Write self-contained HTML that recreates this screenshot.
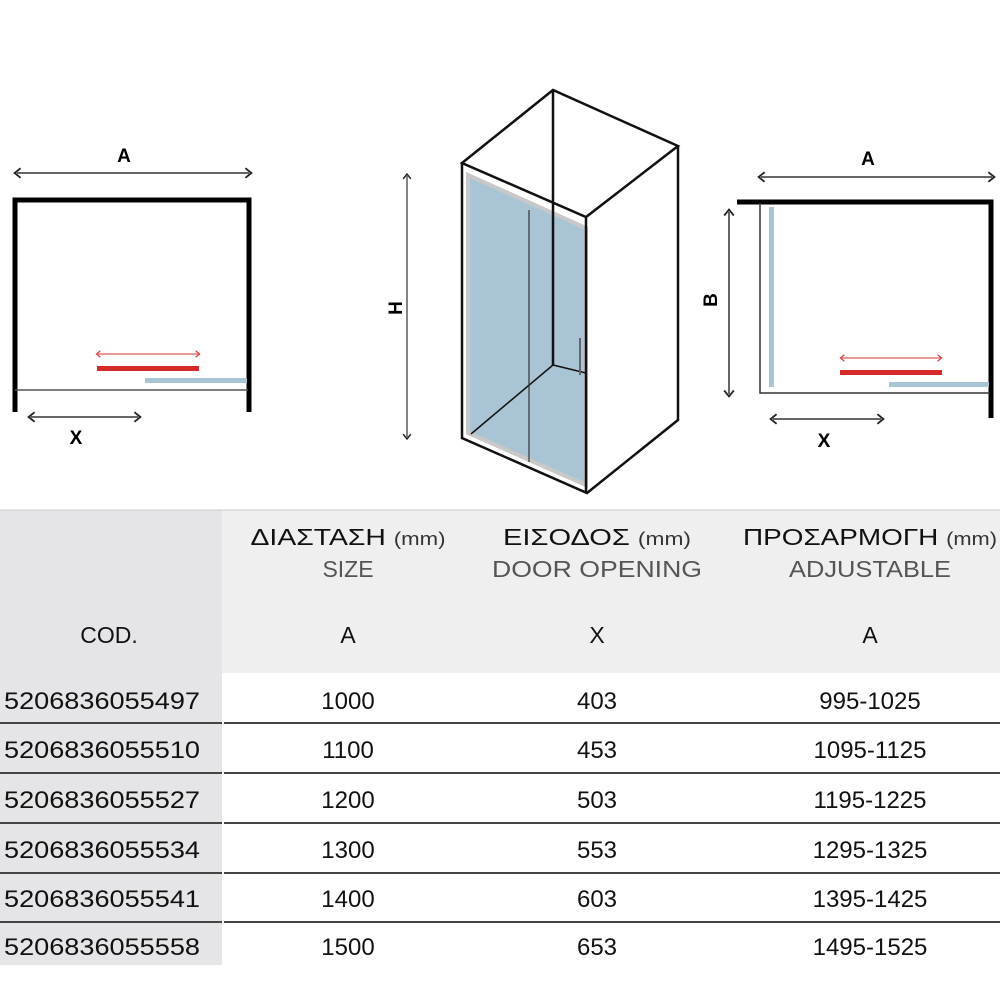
<!DOCTYPE html>
<html><head><meta charset="utf-8"><style>
html,body{margin:0;padding:0;background:#fff;}
svg{display:block;}
text{font-family:"Liberation Sans",sans-serif;}
</style></head><body>
<svg width="1000" height="1000" viewBox="0 0 1000 1000" xmlns="http://www.w3.org/2000/svg">
<defs>
<marker id="ab" viewBox="0 0 10 10" refX="5" refY="5" markerWidth="8" markerHeight="8" orient="auto-start-reverse"><path d="M2,1 L7,5 L2,9" fill="none" stroke="#222" stroke-width="1.5"/></marker>
<marker id="ar" viewBox="0 0 10 10" refX="5" refY="5" markerWidth="8" markerHeight="8" orient="auto-start-reverse"><path d="M2,1 L7,5 L2,9" fill="none" stroke="#d33" stroke-width="1.5"/></marker>
</defs>
<!-- left plan -->
<line x1="17" y1="173" x2="249" y2="173" stroke="#333" stroke-width="1.5" marker-start="url(#ab)" marker-end="url(#ab)"/>
<text x="124" y="162" font-size="19" font-weight="bold" text-anchor="middle">A</text>
<path d="M15,412 V200 H249 V412" fill="none" stroke="#000" stroke-width="5"/>
<line x1="15" y1="390" x2="248" y2="390" stroke="#555" stroke-width="1.5"/>
<line x1="98" y1="354" x2="198" y2="354" stroke="#d33" stroke-width="1" marker-start="url(#ar)" marker-end="url(#ar)"/>
<rect x="97" y="366" width="102" height="5" fill="#d42a2a"/>
<rect x="145" y="378" width="102" height="5" fill="#a9c4d4"/>
<line x1="31" y1="417" x2="138" y2="417" stroke="#333" stroke-width="1.5" marker-start="url(#ab)" marker-end="url(#ab)"/>
<text x="76" y="444" font-size="19" font-weight="bold" text-anchor="middle">X</text>
<!-- center iso -->
<line x1="407" y1="176" x2="407" y2="437" stroke="#333" stroke-width="1.2" marker-start="url(#ab)" marker-end="url(#ab)"/>
<text x="0" y="0" font-size="19" font-weight="bold" text-anchor="middle" transform="translate(402,308) rotate(-90)">H</text>
<polygon points="468,175 586,228 586,485 468,433" fill="#a9c4d4"/>
<polygon points="468,175 586,228 586,485 468,433" fill="none" stroke="#c8c8c8" stroke-width="4"/>
<path d="M462,163 L553,90 L678,146 L586,217 Z M553,90 V365 M586,217 V493 M678,146 V420 L587,493 L462,438 V163" fill="none" stroke="#111" stroke-width="2.5"/>
<line x1="553" y1="365" x2="471" y2="434" stroke="#111" stroke-width="1.5"/>
<line x1="553" y1="365" x2="586" y2="373" stroke="#111" stroke-width="1.5"/>
<line x1="529" y1="210" x2="529" y2="462" stroke="#333" stroke-width="1.2"/>
<line x1="580" y1="338" x2="580" y2="375" stroke="#666" stroke-width="2"/>
<!-- right plan -->
<line x1="761" y1="177" x2="992" y2="177" stroke="#333" stroke-width="1.5" marker-start="url(#ab)" marker-end="url(#ab)"/>
<text x="868" y="165" font-size="19" font-weight="bold" text-anchor="middle">A</text>
<path d="M737,202 H991 V418" fill="none" stroke="#000" stroke-width="5"/>
<path d="M760,203 V393 H990" fill="none" stroke="#333" stroke-width="1.5"/>
<rect x="769" y="207" width="5" height="180" fill="#a9c4d4"/>
<line x1="729" y1="212" x2="729" y2="394" stroke="#333" stroke-width="1.5" marker-start="url(#ab)" marker-end="url(#ab)"/>
<text x="0" y="0" font-size="19" font-weight="bold" text-anchor="middle" transform="translate(717,300) rotate(-90)">B</text>
<line x1="842" y1="358" x2="940" y2="358" stroke="#d33" stroke-width="1" marker-start="url(#ar)" marker-end="url(#ar)"/>
<rect x="840" y="370" width="102" height="5" fill="#d42a2a"/>
<rect x="889" y="382" width="100" height="5" fill="#a9c4d4"/>
<line x1="773" y1="419" x2="881" y2="419" stroke="#333" stroke-width="1.5" marker-start="url(#ab)" marker-end="url(#ab)"/>
<text x="824" y="447" font-size="19" font-weight="bold" text-anchor="middle">X</text>
<!-- table -->
<rect x="0" y="510" width="1000" height="163" fill="#efefef"/>
<rect x="0" y="510" width="222" height="455" fill="#e5e5e7"/>
<line x1="0" y1="510" x2="1000" y2="510" stroke="#ccc" stroke-width="1"/>
<g stroke="#444" stroke-width="2">
<line x1="0" y1="723" x2="222" y2="723"/><line x1="224" y1="723" x2="1000" y2="723"/>
<line x1="0" y1="773" x2="222" y2="773"/><line x1="224" y1="773" x2="1000" y2="773"/>
<line x1="0" y1="823" x2="222" y2="823"/><line x1="224" y1="823" x2="1000" y2="823"/>
<line x1="0" y1="873" x2="222" y2="873"/><line x1="224" y1="873" x2="1000" y2="873"/>
<line x1="0" y1="922" x2="222" y2="922"/><line x1="224" y1="922" x2="1000" y2="922"/>
</g>
<g font-size="23" text-anchor="middle" fill="#111">
<text x="348" y="545" textLength="195" lengthAdjust="spacingAndGlyphs">ΔΙΑΣΤΑΣΗ <tspan font-size="18" fill="#333">(mm)</tspan></text>
<text x="597" y="545" textLength="188" lengthAdjust="spacingAndGlyphs">ΕΙΣΟΔΟΣ <tspan font-size="18" fill="#333">(mm)</tspan></text>
<text x="870" y="545" textLength="254" lengthAdjust="spacingAndGlyphs">ΠΡΟΣΑΡΜΟΓΗ <tspan font-size="18" fill="#333">(mm)</tspan></text>
<g fill="#555">
<text x="348" y="577">SIZE</text>
<text x="597" y="577" textLength="210" lengthAdjust="spacingAndGlyphs">DOOR OPENING</text>
<text x="870" y="577" textLength="162" lengthAdjust="spacingAndGlyphs">ADJUSTABLE</text>
</g>
<text x="109" y="643">COD.</text>
<text x="348" y="643">A</text>
<text x="597" y="643">X</text>
<text x="870" y="643">A</text>
</g>
<g font-size="24" fill="#111">
<g text-anchor="start">
<text x="4" y="709" textLength="196" lengthAdjust="spacingAndGlyphs">5206836055497</text>
<text x="4" y="758" textLength="196" lengthAdjust="spacingAndGlyphs">5206836055510</text>
<text x="4" y="808" textLength="196" lengthAdjust="spacingAndGlyphs">5206836055527</text>
<text x="4" y="858" textLength="196" lengthAdjust="spacingAndGlyphs">5206836055534</text>
<text x="4" y="907" textLength="196" lengthAdjust="spacingAndGlyphs">5206836055541</text>
<text x="4" y="955" textLength="196" lengthAdjust="spacingAndGlyphs">5206836055558</text>
</g>
<g text-anchor="middle">
<text x="348" y="709">1000</text><text x="597" y="709">403</text><text x="870" y="709">995-1025</text>
<text x="348" y="758">1100</text><text x="597" y="758">453</text><text x="870" y="758">1095-1125</text>
<text x="348" y="808">1200</text><text x="597" y="808">503</text><text x="870" y="808">1195-1225</text>
<text x="348" y="858">1300</text><text x="597" y="858">553</text><text x="870" y="858">1295-1325</text>
<text x="348" y="907">1400</text><text x="597" y="907">603</text><text x="870" y="907">1395-1425</text>
<text x="348" y="955">1500</text><text x="597" y="955">653</text><text x="870" y="955">1495-1525</text>
</g>
</g>
</svg>
</body></html>
